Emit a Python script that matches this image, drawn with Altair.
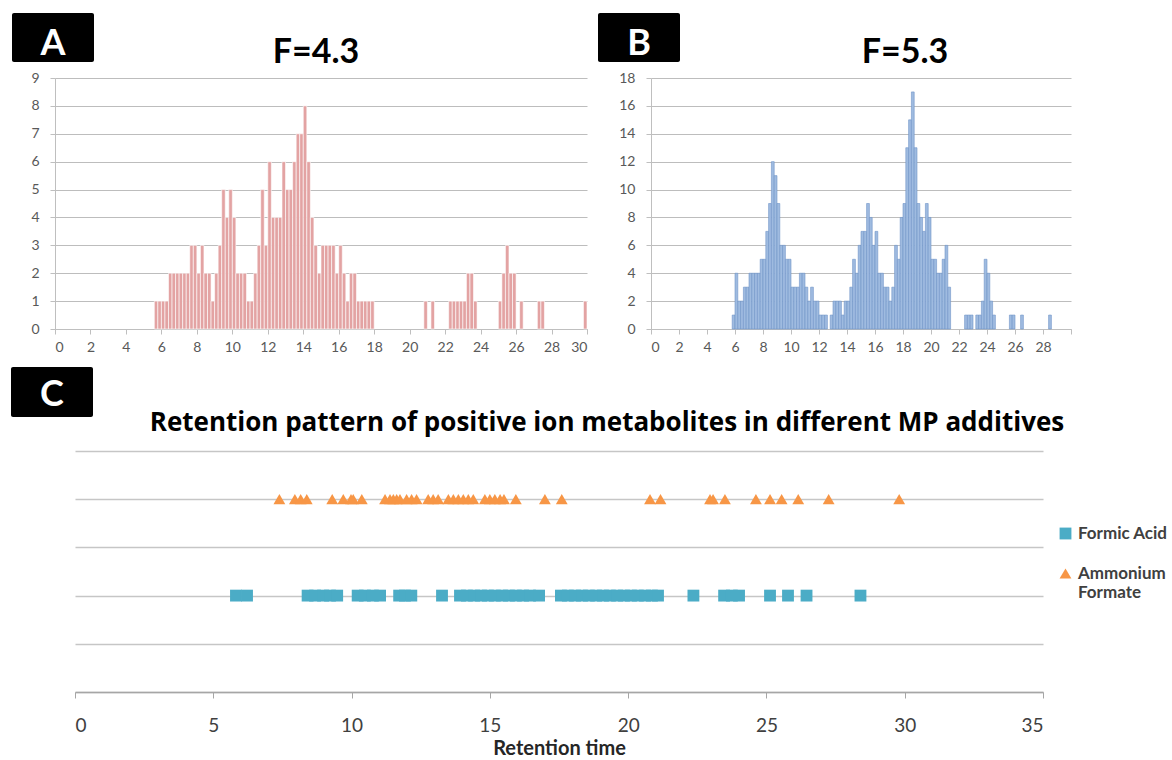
import altair as alt
import pandas as pd

FONT = "Lato"

# ---- Panel A (F=4.3): histogram of retention times, bin start (min) and count ----
a_bin_start = [5.6, 5.8, 6.0, 6.2, 6.4, 6.6, 6.8, 7.0, 7.2, 7.4,
               7.6, 7.8, 8.0, 8.2, 8.4, 8.6, 8.8, 9.0, 9.2, 9.4,
               9.6, 9.8, 10.0, 10.2, 10.4, 10.6, 10.8, 11.0, 11.2, 11.4,
               11.6, 11.8, 12.0, 12.2, 12.4, 12.6, 12.8, 13.0, 13.2, 13.4,
               13.6, 13.8, 14.0, 14.2, 14.4, 14.6, 14.8, 15.0, 15.2, 15.4,
               15.6, 15.8, 16.0, 16.2, 16.4, 16.6, 16.8, 17.0, 17.2, 17.4,
               17.6, 17.8, 20.8, 21.2, 22.2, 22.4, 22.6, 22.8, 23.0, 23.2,
               23.4, 23.6, 25.0, 25.2, 25.4, 25.6, 25.8, 26.2, 27.2, 27.4,
               29.8]
a_count = [1, 1, 1, 1, 2, 2, 2, 2, 2, 2,
           3, 3, 2, 3, 2, 2, 1, 2, 3, 5,
           4, 5, 4, 2, 2, 2, 1, 1, 2, 3,
           5, 3, 6, 4, 4, 4, 6, 5, 5, 6,
           7, 7, 8, 6, 4, 3, 2, 3, 3, 3,
           3, 2, 3, 2, 1, 2, 2, 1, 1, 1,
           1, 1, 1, 1, 1, 1, 1, 1, 1, 2,
           2, 1, 1, 2, 3, 2, 2, 1, 1, 1,
           1]

# ---- Panel B (F=5.3) ----
b_bin_start = [5.8, 6.0, 6.2, 6.4, 6.6, 6.8, 7.0, 7.2, 7.4, 7.6,
               7.8, 8.0, 8.2, 8.4, 8.6, 8.8, 9.0, 9.2, 9.4, 9.6,
               9.8, 10.0, 10.2, 10.4, 10.6, 10.8, 11.0, 11.2, 11.4, 11.6,
               11.8, 12.0, 12.2, 12.4, 12.8, 13.0, 13.2, 13.4, 13.6, 13.8,
               14.0, 14.2, 14.4, 14.6, 14.8, 15.0, 15.2, 15.4, 15.6, 15.8,
               16.0, 16.2, 16.4, 16.6, 16.8, 17.0, 17.2, 17.4, 17.6, 17.8,
               18.0, 18.2, 18.4, 18.6, 18.8, 19.0, 19.2, 19.4, 19.6, 19.8,
               20.0, 20.2, 20.4, 20.6, 20.8, 21.0, 21.2,
               22.4, 22.6, 22.8, 23.2, 23.4, 23.6, 23.8, 24.0, 24.2, 24.4,
               25.6, 25.8, 26.4, 28.4]
b_count = [1, 4, 2, 2, 3, 3, 4, 4, 4, 4,
           5, 5, 7, 9, 12, 11, 9, 6, 6, 5,
           5, 3, 3, 3, 4, 4, 3, 2, 3, 2,
           2, 1, 1, 1, 1, 2, 2, 2, 1, 2,
           2, 3, 5, 4, 6, 7, 7, 9, 8, 6,
           7, 4, 4, 3, 3, 2, 3, 6, 5, 8,
           9, 13, 15, 17, 13, 9, 8, 7, 9, 8,
           5, 5, 4, 4, 5, 6, 3,
           1, 1, 1, 1, 1, 2, 5, 4, 2, 1,
           1, 1, 1, 1]

BIN_WIDTH = 0.2

# ---- Panel C: retention times of positive-ion metabolites per additive ----
formic_acid_rt = [5.82, 6.22, 8.41, 8.68, 8.97, 9.22, 9.48, 10.22, 10.48, 10.77,
                  11.03, 11.72, 11.93, 12.16, 13.27, 13.92, 14.17, 14.43, 14.68, 14.93,
                  15.18, 15.44, 15.69, 15.94, 16.20, 16.45, 16.78, 17.57, 17.82, 18.08,
                  18.33, 18.58, 18.84, 19.09, 19.34, 19.60, 19.85, 20.10, 20.35, 20.61,
                  20.86, 21.08, 22.36, 23.47, 23.75, 24.01, 25.13, 25.78, 26.45, 28.40]
ammonium_formate_rt = [7.39, 7.95, 8.16, 8.38, 9.30, 9.70, 9.98, 10.06, 10.37, 11.21,
                       11.39, 11.51, 11.63, 11.75, 11.99, 12.17, 12.35, 12.77, 12.95, 13.13,
                       13.50, 13.68, 13.86, 14.04, 14.22, 14.40, 14.82, 15.00, 15.18, 15.37,
                       15.51, 15.94, 16.99, 17.60, 20.79, 21.17, 22.96, 23.07, 23.50, 24.62,
                       25.13, 25.55, 26.15, 27.25, 29.80]
series_names = ["Formic Acid", "Ammonium Formate"]
series_level = [2, 4]
series_colors = ["#4BACC6", "#F79646"]
series_shapes = ["square", "triangle-up"]
c_title = "Retention pattern of positive ion metabolites in different MP additives"

LABEL_GREY = "#595959"
LINE_GREY = "#BFBFBF"


def tag_layers(letter, box_x, box_y, letter_x, letter_y):
    """Black panel tag with a white letter, drawn outside the plot area."""
    df = pd.DataFrame({"t": [letter]})
    box = alt.Chart(df).mark_rect(color="black", cornerRadius=2).encode(
        x=alt.value(box_x[0]), x2=alt.value(box_x[1]),
        y=alt.value(box_y[0]), y2=alt.value(box_y[1]),
    )
    txt = alt.Chart(df).mark_text(
        font=FONT, fontSize=36, fontWeight="bold", color="white",
        align="center", baseline="alphabetic",
    ).encode(text="t:N", x=alt.value(letter_x), y=alt.value(letter_y))
    return [box, txt]


def heading_layer(text, x, y, size, font=FONT):
    return alt.Chart(pd.DataFrame({"t": [text]})).mark_text(
        font=font, fontSize=size, fontWeight="bold", color="black",
        align="center", baseline="alphabetic",
    ).encode(text="t:N", x=alt.value(x), y=alt.value(y))


def histogram_panel(starts, counts, ymax, ystep, fill, stroke, width, height,
                    x_label_expr, letter, box_x, letter_x, heading, heading_x):
    df = pd.DataFrame({"start": starts, "count": counts})
    df["end"] = df["start"] + BIN_WIDTH
    bars = alt.Chart(df).mark_rect(fill=fill, stroke=stroke, strokeWidth=0.6).encode(
        x=alt.X("start:Q",
                scale=alt.Scale(domain=[0, 30], nice=False, zero=False),
                axis=alt.Axis(values=list(range(0, 31, 2)), title=None, grid=False,
                              labelExpr=x_label_expr, labelFont=FONT, labelFontSize=14,
                              labelColor=LABEL_GREY, labelPadding=6, tickSize=5,
                              tickColor=LINE_GREY, domainColor=LINE_GREY)),
        x2="end:Q",
        y=alt.Y("count:Q",
                scale=alt.Scale(domain=[0, ymax], nice=False),
                axis=alt.Axis(values=list(range(0, ymax + 1, ystep)), title=None,
                              grid=True, gridColor="#BDBDBD", gridWidth=1.2,
                              labelFont=FONT, labelFontSize=14, labelColor=LABEL_GREY,
                              labelPadding=11, tickSize=5, tickColor=LINE_GREY,
                              domainColor=LINE_GREY)),
        y2=alt.datum(0),
    )
    layers = [bars] + tag_layers(letter, box_x, (-65, -16), letter_x, -23)
    layers.append(heading_layer(heading, heading_x, -15, 34))
    return alt.layer(*layers).properties(width=width, height=height)


panel_a = histogram_panel(a_bin_start, a_count, 9, 1, "#E3A3A3", "#FFFFFF",
                          532, 251, "datum.label", "A", (-43, 39), -2,
                          "F=4.3", 261)
panel_b = histogram_panel(b_bin_start, b_count, 18, 2, "#9FBBE0", "#6F94C7",
                          420, 251, "datum.value >= 30 ? '' : datum.label",
                          "B", (-53, 29), -12, "F=5.3", 254)

# ---- Panel C ----
c_df = pd.DataFrame({
    "rt": formic_acid_rt + ammonium_formate_rt,
    "series": [series_names[0]] * len(formic_acid_rt)
              + [series_names[1]] * len(ammonium_formate_rt),
})
c_df["level"] = c_df["series"].map(dict(zip(series_names, series_level)))

c_legend = alt.Legend(
    title=None, orient="none", legendX=1002, legendY=447, padding=0,
    labelFont=FONT, labelFontSize=17, labelFontWeight="bold", labelColor="#404040",
    symbolSize=140, symbolStrokeWidth=0, rowPadding=22, labelOffset=4,
    labelExpr="datum.label == 'Ammonium Formate' ? ['Ammonium', 'Formate'] : datum.label",
)

points = alt.Chart(c_df).mark_point(filled=True, opacity=1, size=140, strokeWidth=0).encode(
    x=alt.X("rt:Q",
            scale=alt.Scale(domain=[0, 35], nice=False, zero=False),
            axis=alt.Axis(values=list(range(0, 36, 5)), title="Retention time",
                          titleFont=FONT, titleFontSize=20, titleFontWeight="bold",
                          titleColor="#262626", titlePadding=3,
                          labelFont=FONT, labelFontSize=19, labelColor="#404040",
                          labelPadding=18, tickSize=6, tickColor="#A6A6A6",
                          domainColor="#A6A6A6", domainWidth=1.5, grid=False)),
    y=alt.Y("level:Q",
            scale=alt.Scale(domain=[0, 5], nice=False),
            axis=alt.Axis(values=[0, 1, 2, 3, 4, 5], labels=False, ticks=False,
                          domain=False, title=None, grid=True,
                          gridColor="#C6C6C6", gridWidth=1.5)),
    color=alt.Color("series:N",
                    scale=alt.Scale(domain=series_names, range=series_colors),
                    legend=c_legend),
    shape=alt.Shape("series:N",
                    scale=alt.Scale(domain=series_names, range=series_shapes),
                    legend=c_legend),
)

c_layers = [points] + tag_layers("C", (-64, 18), (-84, -34), -23, -45)
c_layers.append(heading_layer(c_title, 532, -20, 26, "Open Sans"))
panel_c = alt.layer(*c_layers).properties(width=968, height=241)

spacer = alt.Chart(pd.DataFrame({"v": [0]})).mark_point(opacity=0).properties(width=10, height=10)

top_row = alt.hconcat(panel_a, panel_b, spacing=64, bounds="flush")
bottom_row = alt.hconcat(spacer, panel_c, spacing=10, bounds="flush")

# the nested top row counts as zero height under flush bounds, so the
# vertical gap includes the 251 px plot height of panels A and B
chart = alt.vconcat(top_row, bottom_row, spacing=373, bounds="flush").properties(
    padding={"left": 11, "top": 13, "right": 4, "bottom": 0},
    background="white",
).configure_view(stroke=None)

chart.save("out.html", embed_options={"renderer": "svg", "actions": False})
